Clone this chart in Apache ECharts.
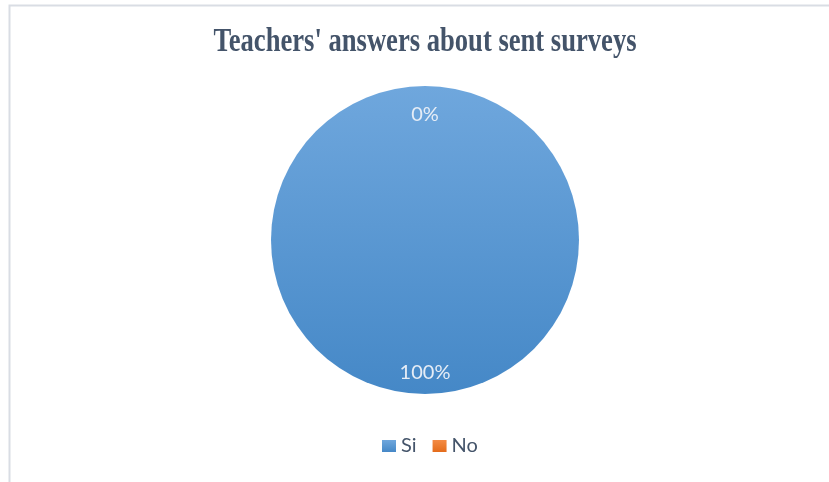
<!DOCTYPE html>
<html><head><meta charset="utf-8">
<script src="https://cdn.jsdelivr.net/npm/echarts@6/dist/echarts.min.js"></script>
<style>html,body{margin:0;padding:0;background:#fff}#c{width:829px;height:482px}</style>
</head><body><div id="c"></div>
<script>
const titleText = "Teachers' answers about sent surveys";
const categories = ['Si', 'No'];
const values = [100, 0];

const chart = echarts.init(document.getElementById('c'), null, {renderer: 'canvas'});
const grad = (a, b) => new echarts.graphic.LinearGradient(0, 0, 0, 1, [{offset: 0, color: a}, {offset: 1, color: b}]);
const colors = [grad('#6fa7dd', '#4588c7'), grad('#f48b44', '#e46c1b')];

chart.setOption({
  animation: false,
  graphic: [
    {type: 'rect', shape: {x: 9.5, y: 5.5, width: 1000, height: 1000}, style: {fill: 'none', stroke: '#d9dde4', lineWidth: 2}, silent: true, z: -1},
    {type: 'text', x: 425, y: 42, scaleY: 1.25, style: {text: titleText, font: 'bold 26.6px "Liberation Serif", "Times New Roman", serif', fill: '#44546a', align: 'center', verticalAlign: 'middle'}}
  ],
  legend: {
    data: categories,
    top: 436,
    left: 382,
    padding: 0,
    itemWidth: 14, itemHeight: 12, itemGap: 16,
    icon: 'rect',
    textStyle: {fontFamily: 'Lato, "Open Sans", sans-serif', fontSize: 20, color: '#44546a'}
  },
  series: [{
    type: 'pie',
    center: [425, 240],
    radius: 154,
    startAngle: 90,
    clockwise: true,
    data: categories.map((c, i) => ({name: c, value: values[i], itemStyle: {color: colors[i]}})),
    label: {
      show: true, position: 'inner', formatter: '{d}%',
      color: '#e6edf6', fontFamily: 'Lato, "Open Sans", sans-serif', fontSize: 20
    },
    labelLayout: function (p) { return {dy: p.dataIndex === 0 ? 53 : -45}; },
    labelLine: {show: false},
    emphasis: {disabled: true}
  }]
});
</script></body></html>
